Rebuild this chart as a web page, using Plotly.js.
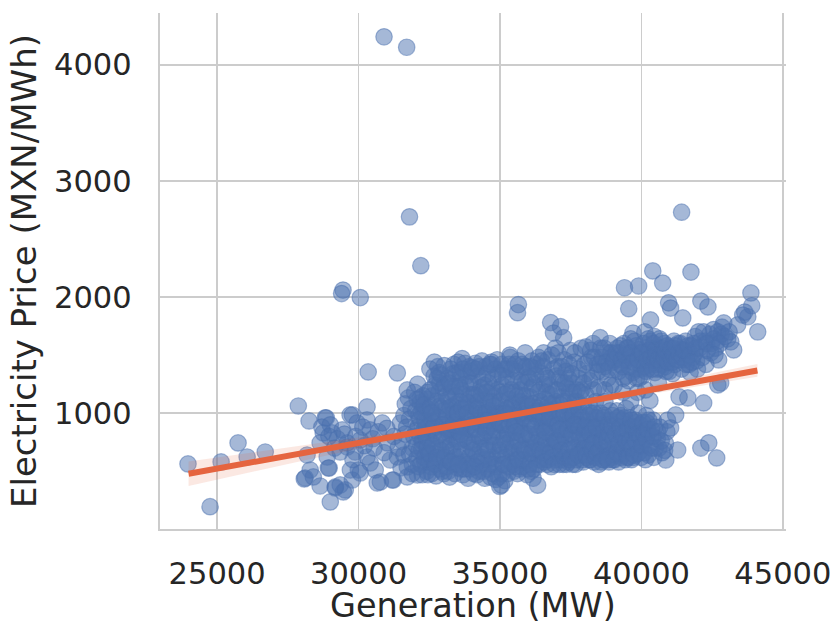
<!DOCTYPE html>
<html>
<head>
<meta charset="utf-8">
<script src="https://cdn.plot.ly/plotly-3.0.1.min.js"></script>
<style>
html,body{margin:0;padding:0;background:#fff;}
#chart{width:832px;height:624px;}
</style>
</head>
<body>
<div id="chart"></div>
<script>
// ---- data: [generation MW, price MXN/MWh] ----
const outliers = [
[30900,4240],[31700,4150],[31800,2690],[32200,2270],[29450,2060],[29400,2030],[30060,1995],
[41420,2730],[40400,2225],[41750,2215],[40750,2120],[39400,2080],[39900,2095],[39550,1900],
[35650,1935],[35620,1865]
];
const leftTail = [
[23970,563],[24750,195],[25140,580],[25740,744],[26060,623],[26700,666],[27870,1062],[28250,933],
[28080,434],[28400,451],[28640,373],[28960,528],[29000,236],[28820,960],[28750,830],[29175,356],
[29460,322],[29700,985],[30300,1054],[30340,1355],[31370,1347],[31720,1200],[31760,1131],[30410,571],
[29990,511],[29350,382],[29780,425],[29600,709],[30300,942],[30840,916],[31120,597],[30770,408],
[31230,425],[31720,537],[32080,468],[28860,959],[29070,830],[29420,856],[29780,985],[29950,916],
[30410,856],[30060,770],[29600,744],[28640,744],[28180,640],[28890,623],[29350,666],[29880,666],
[30300,623],[31020,744],[31480,916],[28290,511],[28110,442],[28930,528],[29180,365],[29530,339],
[29710,511],[30060,485],[30590,511],[30660,399],[31190,425],[31720,451],[31370,623],[32180,1131],
[28700,880],[29000,900],[29250,780],[29500,820],[29900,800],[30150,880],[30500,780],[30700,840],
[31000,870],[31250,800],[31400,700],[30900,660],[30550,700],[30200,720],[29800,600],[29150,700],
[28950,800],[31650,820],[31800,950],[31900,700],[31600,640],[31900,560],
[31550,760],[31600,980],[31700,880],[31800,650],[31850,1040],[31950,800],[31900,480],[31500,530],
[31650,1080],[31980,1180]
];
const coreWest = [
[32050,720],[32120,980],[32200,560],[32260,1050],[32310,860],[32380,640],[32440,1180],[32090,1250],
[32150,810],[32230,690],[32330,940],[32410,500],[32470,770],[32060,610],[32180,1090],[32290,760],
[32360,1010],[32480,900],[32100,880],[32250,470],[32400,1120],[32020,1020],[32340,580],[32460,660],
[32520,1380],[32560,540],[32600,1150],[32650,820],[32700,980],[32740,460],[32780,1300],[32820,700],
[32860,1060],[32910,600],[32950,900],[32990,1220],[32540,760],[32620,1010],[32680,1440],[32720,650],
[32760,880],[32840,1180],[32880,520],[32930,770],[32970,1100],[32580,930],[32660,590],[32800,1400],
[32900,1330],[32700,1240],
[33020,480],[33060,1030],[33110,760],[33150,1300],[33190,590],[33240,920],[33280,1180],[33320,680],
[33370,1420],[33410,840],[33450,1080],[33490,530],[33040,1250],[33090,880],[33130,640],[33180,1120],
[33220,450],[33260,1380],[33300,990],[33350,560],[33390,780],[33430,1230],[33470,950],[33080,700],
[33200,820],[33330,1060],[33460,1350],
[33520,1440],[33560,620],[33600,900],[33640,1200],[33690,470],[33730,780],[33770,1050],[33810,1320],
[33850,560],[33890,950],[33940,1160],[33980,700],[33540,840],[33580,1100],[33620,520],[33660,1470],
[33710,990],[33750,660],[33790,1250],[33830,870],[33870,440],[33910,1400],[33960,750],[33990,1020],
[33600,1300],[33720,580],[33880,1090],
[34020,560],[34060,1060],[34100,820],[34150,1380],[34190,470],[34230,960],[34270,1180],[34310,700],
[34360,1450],[34400,880],[34440,600],[34480,1120],[34040,1260],[34080,740],[34120,1000],[34170,640],
[34210,1320],[34250,500],[34290,900],[34330,1220],[34380,780],[34420,1040],[34460,440],[34490,1400],
[34140,1150],[34320,560],[34470,830],
[34520,1000],[34560,520],[34600,1260],[34650,760],[34690,1420],[34730,620],[34770,910],[34810,1150],
[34850,430],[34890,840],[34940,1340],[34980,680],[34540,720],[34580,1090],[34620,880],[34660,450],
[34710,1210],[34750,980],[34790,560],[34830,1380],[34870,1060],[34910,640],[34960,790],[34990,1180],
[34700,1440],[34860,960],[34990,370],[34600,600]
];
const coreWestExtra = [
[32030,850],[32110,540],[32170,950],[32240,760],[32280,1150],[32320,620],[32370,900],[32430,1040],
[32490,580],[32140,680],[32210,1010],[32390,790],[32450,470],[32070,1120],[32300,1070],[32420,700],
[32510,650],[32550,1050],[32590,480],[32630,870],[32670,1320],[32710,560],[32750,1100],[32790,800],
[32830,960],[32870,1260],[32920,680],[32960,500],[32530,1200],[32610,720],[32690,910],[32770,620],
[32850,1350],[32940,1040],[32980,840],[32570,1000],
[33010,900],[33050,620],[33100,1150],[33140,980],[33170,500],[33210,1260],[33250,720],[33290,860],
[33340,1340],[33380,1000],[33420,620],[33480,760],[33030,1410],[33120,540],[33160,860],[33230,1050],
[33270,580],[33310,1230],[33360,900],[33400,480],[33440,1150],[33490,1000],
[33510,1000],[33550,760],[33590,1350],[33630,680],[33670,880],[33700,1160],[33740,520],[33780,900],
[33820,1100],[33860,760],[33900,620],[33950,1260],[33990,860],[33530,560],[33570,1230],[33650,1040],
[33690,1380],[33760,1430],[33840,1000],[33920,520],[33970,1360],[33610,820],
[34010,900],[34050,680],[34090,1160],[34130,1430],[34160,860],[34200,580],[34240,1100],[34280,800],
[34320,1000],[34350,620],[34390,1300],[34430,940],[34470,700],[34030,1390],[34070,480],[34110,540],
[34180,1040],[34260,1400],[34340,1160],[34410,500],[34450,1240],[34490,1000],
[34510,850],[34550,1340],[34590,680],[34630,1020],[34670,560],[34720,800],[34760,1300],[34800,720],
[34840,1000],[34880,540],[34920,1200],[34970,1000],[34530,1180],[34570,940],[34640,1420],[34680,1100],
[34740,480],[34780,1060],[34820,860],[34900,1460],[34950,450],[34990,920]
];
const coreMid = [
[35020,900],[35060,1420],[35100,560],[35150,1160],[35190,740],[35230,1300],[35270,480],[35310,990],
[35360,1480],[35400,660],[35440,1080],[35480,830],[35040,640],[35080,1240],[35120,1020],[35170,420],
[35210,860],[35250,1380],[35290,700],[35330,1120],[35380,580],[35420,940],[35460,1280],[35490,500],
[35130,780],[35350,1500],[35470,1040],[35050,380],
[35520,1180],[35560,620],[35600,980],[35650,1450],[35690,520],[35730,860],[35770,1270],[35810,700],
[35850,1080],[35890,1520],[35940,590],[35980,920],[35540,760],[35580,1360],[35620,480],[35670,1040],
[35710,1200],[35750,640],[35790,960],[35830,1400],[35870,820],[35910,1150],[35960,470],[35990,1310],
[35600,880],[35780,540],[35930,1000],
[36020,700],[36060,1140],[36100,500],[36150,930],[36190,1390],[36230,620],[36270,1050],[36310,820],
[36360,1480],[36400,560],[36440,1200],[36480,880],[36040,1300],[36080,780],[36120,1000],[36170,440],
[36210,1250],[36250,680],[36290,1420],[36330,960],[36370,600],[36420,1100],[36460,740],[36490,1340],
[36330,380],[36130,1450],[36400,1010],
[36520,880],[36560,1250],[36600,600],[36650,1040],[36690,1460],[36730,720],[36770,1160],[36810,540],
[36850,960],[36890,1380],[36940,660],[36980,1100],[36540,1520],[36580,780],[36620,1320],[36670,560],
[36710,920],[36750,1240],[36790,820],[36830,1500],[36870,700],[36910,1030],[36960,1200],[36990,600],
[36790,1780],[36890,1690],[36960,1560],[36640,1180],
[37020,980],[37060,640],[37100,1300],[37150,800],[37190,1140],[37230,560],[37270,1460],[37310,900],
[37360,1220],[37400,680],[37440,1040],[37480,1540],[37040,1400],[37080,760],[37120,1080],[37170,600],
[37210,1260],[37250,860],[37290,700],[37330,1360],[37380,1000],[37420,580],[37460,1180],[37490,820],
[37140,1745],[37250,1650],[37420,1300],[37060,1520],
[37520,900],[37560,1260],[37600,620],[37650,1520],[37690,780],[37730,1100],[37770,1380],[37810,680],
[37850,980],[37890,1200],[37940,580],[37980,860],[37540,720],[37580,1040],[37620,1440],[37670,560],
[37710,940],[37750,820],[37790,1300],[37830,640],[37870,1560],[37910,760],[37960,1060],[37990,1420],
[37600,1180],[37880,900]
];
const coreMidExtra = [
[35010,1100],[35030,720],[35070,480],[35110,900],[35160,1380],[35200,620],[35240,1040],[35280,820],
[35320,1420],[35370,760],[35410,1200],[35450,560],[35490,980],[35090,1320],[35140,560],[35180,1000],
[35260,1180],[35300,540],[35340,900],[35390,1050],[35430,1380],[35480,700],
[35510,900],[35550,540],[35590,1140],[35630,760],[35660,1280],[35700,680],[35740,1000],[35780,1420],
[35820,600],[35860,960],[35900,1260],[35950,780],[35990,520],[35530,1420],[35570,840],[35640,600],
[35720,1100],[35760,820],[35800,1150],[35880,680],[35920,1400],[35970,1080],
[36010,1060],[36050,560],[36090,900],[36140,1220],[36180,700],[36220,1000],[36260,1330],[36300,560],
[36340,1180],[36380,800],[36430,960],[36470,1450],[36030,820],[36070,1400],[36110,660],[36160,1080],
[36200,520],[36240,880],[36280,740],[36350,1020],[36410,680],[36450,1060],
[36510,660],[36550,960],[36590,1120],[36630,740],[36660,880],[36700,600],[36740,1020],[36780,660],
[36820,880],[36860,1080],[36900,780],[36950,920],[36990,1320],[36530,1400],[36570,580],[36610,840],
[36680,1300],[36720,1080],[36760,960],[36840,620],[36920,560],[36970,760],
[37010,760],[37050,900],[37090,560],[37130,1000],[37160,680],[37200,820],[37240,1100],[37280,620],
[37320,780],[37370,940],[37410,1120],[37450,680],[37490,960],[37030,1200],[37110,860],[37180,1400],
[37260,1000],[37300,1260],[37350,560],[37390,860],[37440,1420],[37470,600],
[37510,620],[37550,820],[37590,980],[37630,700],[37660,1100],[37700,600],[37740,900],[37780,1040],
[37820,800],[37860,660],[37900,960],[37950,1260],[37990,700],[37530,1340],[37570,560],[37640,900],
[37720,1200],[37760,640],[37800,880],[37840,1180],[37920,600],[37970,820]
];
const coreEast = [
[38020,700],[38060,1340],[38100,880],[38150,1060],[38190,600],[38230,1480],[38270,780],[38310,1200],
[38360,960],[38400,640],[38440,1420],[38480,820],[38040,1570],[38080,620],[38120,980],[38170,1280],
[38210,720],[38250,900],[38290,1600],[38330,580],[38380,1100],[38420,860],[38460,1360],[38490,680],
[38200,1540],[38350,760],
[38520,820],[38560,1560],[38600,640],[38650,960],[38690,1400],[38730,700],[38770,880],[38810,1300],
[38850,580],[38890,1020],[38940,1480],[38980,760],[38540,1650],[38580,900],[38620,1360],[38670,600],
[38710,1100],[38750,800],[38790,1520],[38830,680],[38870,940],[38910,1240],[38960,620],[38990,1440],
[38700,1200],[38880,1600],
[39020,640],[39060,900],[39100,1380],[39150,760],[39190,580],[39230,1520],[39270,980],[39310,700],
[39360,1300],[39400,840],[39440,600],[39480,1460],[39040,1240],[39080,720],[39120,1020],[39170,860],
[39210,640],[39250,1420],[39290,800],[39330,940],[39380,1600],[39420,680],[39460,1040],[39490,900],
[39150,1560],[39350,1180],
[39520,700],[39560,1480],[39600,880],[39650,600],[39690,1350],[39730,780],[39770,940],[39810,1580],
[39850,650],[39890,1000],[39940,1420],[39980,720],[39540,1280],[39580,960],[39620,1640],[39670,820],
[39710,620],[39750,1500],[39790,860],[39830,1300],[39870,760],[39910,1550],[39960,900],[39990,1380],
[39620,1100],[39860,1180],[39700,1690],
[40020,840],[40060,1450],[40100,660],[40150,1560],[40190,920],[40230,1380],[40270,720],[40310,1620],
[40360,860],[40400,1480],[40440,620],[40480,1350],[40040,1320],[40080,760],[40120,1700],[40170,980],
[40210,1520],[40250,640],[40290,1420],[40330,800],[40380,1560],[40420,940],[40460,1660],[40490,700],
[40300,1110],[40150,1200],[40320,1803],
[40520,1420],[40560,780],[40600,1560],[40650,880],[40690,1380],[40730,660],[40770,1500],[40810,1600],
[40850,740],[40890,1440],[40940,1540],[40980,1360],[40540,1500],[40620,700],[40700,1620],[40760,1460],
[40840,1400],[40920,940],[40860,597],[40960,1950],[41030,1905],[40600,1260]
];
const coreEastExtra = [
[38010,880],[38050,640],[38090,760],[38130,920],[38160,600],[38200,1000],[38240,680],[38280,860],
[38320,1000],[38370,620],[38410,780],[38450,960],[38490,560],[38030,1160],[38110,1440],[38180,820],
[38260,1300],[38300,740],[38340,1480],[38390,880],[38430,660],[38470,1220],
[38510,680],[38550,1000],[38590,760],[38630,600],[38660,840],[38700,980],[38740,620],[38780,760],
[38820,900],[38860,820],[38900,640],[38950,880],[38990,600],[38530,1420],[38610,1480],[38680,1560],
[38760,1440],[38840,1380],[38920,1520],[38970,980],[38570,580],[38800,600],
[39010,780],[39050,600],[39090,820],[39130,660],[39160,960],[39200,740],[39240,880],[39280,620],
[39320,820],[39370,700],[39410,960],[39450,760],[39490,620],[39030,1460],[39110,1520],[39190,1360],
[39260,1580],[39300,1460],[39340,1400],[39410,1500],[39450,1320],[39480,1560],
[39510,860],[39550,620],[39590,760],[39630,940],[39660,700],[39700,880],[39740,640],[39780,760],
[39820,920],[39860,820],[39900,660],[39950,800],[39990,620],[39530,1560],[39570,1400],[39640,1520],
[39720,1440],[39760,1620],[39800,1380],[39880,1460],[39920,1300],[39970,1520],
[40010,720],[40050,920],[40090,820],[40140,600],[40180,780],[40220,860],[40260,940],[40350,700],
[40410,800],[40470,880],[40030,1520],[40070,1600],[40110,1400],[40160,1360],[40200,1460],[40240,1640],
[40280,1540],[40340,1480],[40390,1380],[40430,1600],[40470,1460],[40490,1540],
[40510,1500],[40550,1380],[40590,1460],[40640,1640],[40680,1500],[40720,1420],[40760,1560],[40800,1480],
[40830,1540],[40870,1360],[40910,1580],[40950,1440],[40990,1500],[40580,840],[40700,760],[40820,680],
[40900,840]
];
const rightTail = [
[41030,873],[41210,985],[41280,683],[41060,1480],[41120,1560],[41180,1420],[41240,1520],[41300,1600],
[41360,1460],[41420,1380],[41460,1820],[41490,1540],[41100,1340],[41330,1140],[41400,1550],[41150,1620],
[41640,1131],[41530,1460],[41600,1540],[41680,1420],[41750,1580],[41820,1480],[41880,1520],[41950,1450],
[41560,1620],[41720,1350],[41900,1660],[41980,1380],
[41050,1560],[41090,1440],[41140,1500],[41200,1580],[41260,1460],[41320,1520],[41380,1600],[41440,1480],
[41510,1540],[41580,1420],[41650,1580],[41700,1500],[41790,1440],[41860,1600],[41930,1560],
[42200,1088],[42100,700],[42380,745],[42100,1965],[42350,1915],[42050,1560],[42150,1480],[42250,1620],
[42330,1540],[42420,1680],[42480,1600],[42020,1700],[42280,1420],
[42080,1620],[42200,1700],[42310,1600],[42450,1520],[42550,1720],[42680,1620],[42820,1680],[43050,1640],
[42660,615],[42730,1459],[42700,1243],[42910,1777],[42560,1640],[42620,1560],[42700,1700],[42780,1600],
[42850,1740],[42950,1660],[42800,1260],[42600,1500],
[43160,1614],[43260,1545],[43580,1845],[43760,1830],[43870,2035],[43900,1925],[44110,1700],[43100,1700],
[43400,1760],[43650,1870]
];

// regression line and its confidence band
const fitGen   = [23990, 26000, 28000, 30000, 32000, 34000, 36000, 38000, 40000, 42000, 44100];
const fitPrice = [478, 567, 655, 744, 832, 921, 1009, 1098, 1186, 1274, 1368];
const ciLower  = [373, 482, 590, 699, 804, 903, 992, 1074, 1151, 1229, 1313];
const ciUpper  = [583, 652, 720, 789, 860, 939, 1026, 1122, 1221, 1319, 1423];

const xTicks = [25000, 30000, 35000, 40000, 45000];
const yTicks = [1000, 2000, 3000, 4000];
const xLabel = 'Generation (MW)';
const yLabel = 'Electricity Price (MXN/MWh)';

const allPts = [].concat(outliers, leftTail, coreWest, coreWestExtra, coreMid, coreMidExtra,
                         coreEast, coreEastExtra, rightTail);
const generation = allPts.map(p => p[0]);
const price = allPts.map(p => p[1]);

const TXT = '#262626';
const GRID = '#cccccc';
const FONT = 'DejaVu Sans, sans-serif';
const LINE = '#e5643f';

const traces = [
  {
    type: 'scatter', mode: 'markers', x: generation, y: price,
    marker: {size: 16.5, color: 'rgba(76,114,176,0.5)', line: {color: 'rgba(76,114,176,0.5)', width: 1.2}},
    hoverinfo: 'skip', showlegend: false
  },
  {
    type: 'scatter', mode: 'lines', x: fitGen, y: ciLower,
    line: {width: 0, color: 'rgba(0,0,0,0)'}, showlegend: false, hoverinfo: 'skip'
  },
  {
    type: 'scatter', mode: 'lines', x: fitGen, y: ciUpper, fill: 'tonexty',
    fillcolor: 'rgba(229,100,63,0.15)',
    line: {width: 0, color: 'rgba(0,0,0,0)'}, showlegend: false, hoverinfo: 'skip'
  },
  {
    type: 'scatter', mode: 'lines', x: fitGen, y: fitPrice,
    line: {width: 6, color: LINE}, showlegend: false, hoverinfo: 'skip'
  }
];

const layout = {
  width: 832, height: 624,
  margin: {l: 160, r: 46, t: 13, b: 95},
  paper_bgcolor: '#ffffff', plot_bgcolor: '#ffffff',
  font: {family: FONT, color: TXT, size: 30},
  showlegend: false,
  xaxis: {
    range: [22980, 45110], tickvals: xTicks, ticktext: xTicks.map(String),
    showgrid: true, gridcolor: GRID, gridwidth: 1.8,
    showline: true, linecolor: GRID, linewidth: 2.2,
    zeroline: false, ticks: '', ticklabelstandoff: 16,
    tickfont: {family: FONT, size: 30.5, color: TXT},
    automargin: false
  },
  yaxis: {
    range: [3, 4445], tickvals: yTicks, ticktext: yTicks.map(String),
    showgrid: true, gridcolor: GRID, gridwidth: 1.8,
    showline: true, linecolor: GRID, linewidth: 2.2,
    zeroline: false, ticks: '', ticklabelstandoff: 20,
    tickfont: {family: FONT, size: 30.5, color: TXT},
    title: {text: yLabel, font: {family: FONT, size: 34, color: TXT}, standoff: 7},
    automargin: false
  },
  annotations: [{
    text: xLabel, xref: 'paper', yref: 'paper', x: 0.5, y: 0,
    xanchor: 'center', yanchor: 'middle', yshift: -76, showarrow: false,
    font: {family: FONT, size: 33.5, color: TXT}
  }]
};

Plotly.newPlot('chart', traces, layout, {displayModeBar: false, staticPlot: true});
</script>
</body>
</html>
